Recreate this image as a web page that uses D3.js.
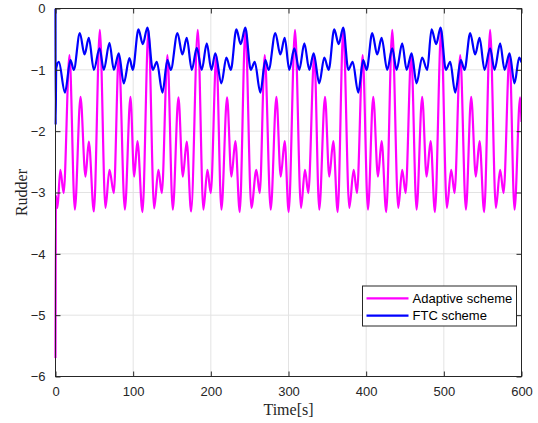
<!DOCTYPE html>
<html>
<head>
<meta charset="utf-8">
<script src="https://cdn.jsdelivr.net/npm/d3@7"></script>
<style>
  html, body { margin: 0; padding: 0; background: #fff; }
  svg { display: block; }
</style>
</head>
<body>
<svg id="chart" width="538" height="423"></svg>
<script>
// Rudder command over time for the two control schemes (local extrema of each trace)
const adaptiveTime = [
  0, 0.5, 2.5, 6.2, 10.5, 18.0, 24.9, 32.2, 38.6, 42.9, 49.4,
  57.1, 64.3, 69.5, 75.1, 81.5, 89.3, 96.5, 101.3, 105.5, 112.0,
  119.7, 127.0, 132.5, 136.9, 144.1, 151.0, 158.3, 163.9, 169.0, 174.6,
  183.2, 190.4, 195.6, 199.9, 207.1, 213.6, 220.9, 226.5, 231.6, 237.2,
  244.5, 252.2, 258.6, 263.0, 269.4, 277.1, 284.4, 290.0, 295.1, 300.2,
  308.4, 316.1, 321.2, 325.5, 333.2, 339.6, 347.0, 352.5, 357.7, 363.3,
  370.5, 378.3, 383.9, 388.2, 395.5, 402.3, 409.1, 415.2, 419.9, 425.8,
  433.6, 441.3, 446.4, 450.8, 458.0, 464.9, 472.1, 477.8, 483.0, 488.5,
  496.6, 503.9, 509.5, 513.8, 521.1, 528.4, 535.2, 541.2, 546.0, 551.9,
  559.6, 567.0, 572.5, 576.9, 584.6, 591.0, 598.2, 600.0
];
const adaptiveValue = [
  -5.70, -3.05, -3.25, -2.63, -3.01, -0.76, -3.28, -1.44, -2.74, -2.17, -3.31,
  -0.35, -3.25, -2.63, -3.01, -0.76, -3.28, -1.44, -2.74, -2.16, -3.32,
  -0.35, -3.26, -2.63, -3.01, -0.76, -3.28, -1.45, -2.74, -2.17, -3.31,
  -0.35, -3.28, -2.63, -3.01, -0.76, -3.28, -1.45, -2.74, -2.16, -3.32,
  -0.35, -3.25, -2.63, -3.01, -0.76, -3.28, -1.44, -2.74, -2.16, -3.32,
  -0.35, -3.25, -2.63, -3.01, -0.76, -3.28, -1.44, -2.74, -2.16, -3.32,
  -0.35, -3.25, -2.63, -3.01, -0.76, -3.28, -1.44, -2.74, -2.16, -3.32,
  -0.35, -3.25, -2.63, -3.01, -0.76, -3.28, -1.44, -2.74, -2.16, -3.32,
  -0.35, -3.25, -2.63, -3.01, -0.76, -3.28, -1.44, -2.74, -2.16, -3.32,
  -0.35, -3.25, -2.63, -3.01, -0.76, -3.28, -1.45, -1.85
];

const ftcTime = [
  0, 0.15, 0.9, 4.3, 12.1, 19.3, 23.6, 31.3, 37.4, 42.9, 49.4,
  56.7, 62.2, 69.5, 75.1, 81.5, 87.9, 95.2, 99.5, 106.8, 112.4,
  118.4, 125.3, 130.4, 137.7, 144.1, 148.5, 157.0, 163.4, 169.0, 175.5,
  181.9, 188.3, 194.8, 200.7, 205.8, 213.6, 220.0, 225.7, 232.9, 238.5,
  244.4, 251.4, 256.5, 263.7, 270.2, 274.5, 283.0, 289.5, 295.1, 301.0,
  307.5, 313.9, 320.4, 326.8, 332.4, 339.6, 346.1, 351.7, 358.9, 364.6,
  370.5, 377.0, 382.6, 389.8, 396.2, 400.6, 407.8, 414.2, 419.9, 427.1,
  433.6, 439.2, 446.4, 452.1, 458.5, 464.9, 472.1, 478.6, 484.2, 490.2,
  495.8, 502.6, 508.2, 514.6, 521.9, 526.7, 533.9, 540.3, 546.0, 552.4,
  559.6, 565.3, 572.5, 578.2, 584.6, 591.0, 597.0, 600.0
];
const ftcValue = [
  0, -1.90, -0.975, -0.87, -1.37, -0.84, -1.00, -0.40, -0.75, -0.48, -1.00,
  -0.65, -1.00, -0.56, -1.00, -0.73, -1.22, -0.81, -1.00, -0.34, -0.58,
  -0.31, -1.00, -0.87, -1.37, -0.84, -1.00, -0.40, -0.75, -0.48, -1.00,
  -0.64, -1.00, -0.57, -1.00, -0.73, -1.22, -0.80, -1.00, -0.34, -0.58,
  -0.31, -1.00, -0.87, -1.37, -0.84, -1.00, -0.40, -0.75, -0.48, -1.00,
  -0.65, -1.00, -0.57, -1.00, -0.73, -1.22, -0.80, -1.00, -0.34, -0.58,
  -0.31, -1.00, -0.87, -1.37, -0.84, -1.00, -0.40, -0.75, -0.48, -1.00,
  -0.65, -1.00, -0.57, -1.00, -0.73, -1.22, -0.80, -1.00, -0.34, -0.58,
  -0.31, -1.00, -0.87, -1.37, -0.84, -1.00, -0.40, -0.75, -0.48, -1.00,
  -0.65, -1.00, -0.57, -1.00, -0.73, -1.22, -0.80, -0.88
];

const xTicks = [0, 100, 200, 300, 400, 500, 600];
const yTicks = [-6, -5, -4, -3, -2, -1, 0];
const seriesNames = ["Adaptive scheme", "FTC scheme"];
const seriesColors = ["#ff00ff", "#0000ff"];

const W = 538, H = 423;
const plot = { left: 55.5, right: 521.5, top: 8.5, bottom: 376.5 };
const axisColor = "#262626";
const gridColor = "#e3e3e3";
const tickFont = "'Liberation Sans', Arial, Helvetica, sans-serif";
const labelFont = "'Liberation Serif', 'Times New Roman', serif";

const svg = d3.select("#chart");

const x = d3.scaleLinear().domain([0, 600]).range([plot.left, plot.right]);
const y = d3.scaleLinear().domain([-6, 0]).range([plot.bottom, plot.top]);

// grid
const grid = svg.append("g");
grid.selectAll(".gx").data(xTicks).join("line")
  .attr("x1", d => x(d)).attr("x2", d => x(d))
  .attr("y1", plot.top).attr("y2", plot.bottom)
  .attr("stroke", gridColor).attr("stroke-width", 1);
grid.selectAll(".gy").data(yTicks).join("line")
  .attr("x1", plot.left).attr("x2", plot.right)
  .attr("y1", d => y(d)).attr("y2", d => y(d))
  .attr("stroke", gridColor).attr("stroke-width", 1);

// inward ticks on all four sides, MATLAB style
const tickLen = 5;
const bottomAxis = d3.axisBottom(x).tickValues(xTicks).tickSizeInner(-tickLen).tickSizeOuter(0).tickPadding(10);
const topAxis = d3.axisTop(x).tickValues(xTicks).tickSizeInner(-tickLen).tickSizeOuter(0).tickFormat("");
const leftAxis = d3.axisLeft(y).tickValues(yTicks).tickSizeInner(-tickLen).tickSizeOuter(0).tickPadding(10)
  .tickFormat(d3.format("d"));
const rightAxis = d3.axisRight(y).tickValues(yTicks).tickSizeInner(-tickLen).tickSizeOuter(0).tickFormat("");

function styleAxis(g) {
  g.select(".domain").remove();
  g.selectAll(".tick line").attr("stroke", axisColor).attr("stroke-width", 1);
  g.selectAll(".tick text").attr("fill", axisColor)
    .style("font-family", tickFont).style("font-size", "13px");
}

// data traces
const traces = [
  { t: adaptiveTime, v: adaptiveValue, color: seriesColors[0] },
  { t: ftcTime, v: ftcValue, color: seriesColors[1] }
];
const line = d3.line()
  .x(d => x(d[0]))
  .y(d => y(d[1]))
  .curve(d3.curveMonotoneX);

svg.append("defs").append("clipPath").attr("id", "plotClip")
  .append("rect")
  .attr("x", plot.left - 2).attr("y", plot.top)
  .attr("width", plot.right - plot.left + 2).attr("height", plot.bottom - plot.top);

svg.append("g").attr("clip-path", "url(#plotClip)")
  .selectAll("path").data(traces).join("path")
  .attr("d", s => line(s.t.map((t, i) => [t, s.v[i]])))
  .attr("fill", "none")
  .attr("stroke", s => s.color)
  .attr("stroke-width", 2.2)
  .attr("stroke-linejoin", "round");

// axes box
svg.append("g").attr("transform", `translate(0,${plot.bottom})`).call(bottomAxis).call(styleAxis);
svg.append("g").attr("transform", `translate(0,${plot.top})`).call(topAxis).call(styleAxis);
svg.append("g").attr("transform", `translate(${plot.left},0)`).call(leftAxis).call(styleAxis);
svg.append("g").attr("transform", `translate(${plot.right},0)`).call(rightAxis).call(styleAxis);
svg.append("rect")
  .attr("x", plot.left).attr("y", plot.top)
  .attr("width", plot.right - plot.left).attr("height", plot.bottom - plot.top)
  .attr("fill", "none").attr("stroke", axisColor).attr("stroke-width", 1);

// axis titles
svg.append("text")
  .attr("x", (plot.left + plot.right) / 2).attr("y", 415)
  .attr("text-anchor", "middle")
  .attr("fill", axisColor)
  .style("font-family", labelFont).style("font-size", "16px")
  .text("Time[s]");
svg.append("text")
  .attr("transform", `translate(27,${(plot.top + plot.bottom) / 2}) rotate(-90)`)
  .attr("text-anchor", "middle")
  .attr("fill", axisColor)
  .style("font-family", labelFont).style("font-size", "16px")
  .text("Rudder");

// legend
const legend = svg.append("g");
legend.append("rect")
  .attr("x", 362.5).attr("y", 286)
  .attr("width", 154).attr("height", 40)
  .attr("fill", "#fff").attr("stroke", axisColor).attr("stroke-width", 1);
seriesNames.forEach((name, i) => {
  const cy = 298.3 + i * 17.4;
  legend.append("line")
    .attr("x1", 366.5).attr("x2", 408.5)
    .attr("y1", cy).attr("y2", cy)
    .attr("stroke", seriesColors[i]).attr("stroke-width", 2.2);
  legend.append("text")
    .attr("x", 412.5).attr("y", cy + 4.6)
    .attr("fill", "#000")
    .style("font-family", tickFont).style("font-size", "13px")
    .text(name);
});
</script>
</body>
</html>
